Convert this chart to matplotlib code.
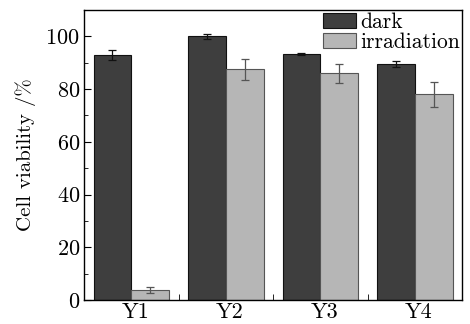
import numpy as np
import matplotlib
matplotlib.use("Agg")
import matplotlib.pyplot as plt
from matplotlib.ticker import MultipleLocator, FixedLocator

plt.rcParams['font.family'] = ['cmr10', 'DejaVu Serif']
plt.rcParams['axes.formatter.use_mathtext'] = True

# data
groups = ["Y1", "Y2", "Y3", "Y4"]
dark = [93.0, 100.0, 93.3, 89.5]
dark_err = [2.0, 0.8, 0.3, 1.0]
irradiation = [3.8, 87.6, 86.0, 78.0]
irr_err = [1.0, 4.0, 3.5, 4.8]

x = np.arange(len(groups))
w = 0.4

fig = plt.figure(figsize=(4.7, 3.24), dpi=100)
ax = fig.add_axes([0.179, 0.074, 0.804, 0.895])

ax.bar(x - w / 2, dark, w, color="#3e3e3e", edgecolor="#111111", linewidth=0.8,
       yerr=dark_err, error_kw=dict(ecolor="#111111", elinewidth=0.9, capsize=3, capthick=0.9),
       label="dark")
ax.bar(x + w / 2, irradiation, w, color="#b6b6b6", edgecolor="#555555", linewidth=0.8,
       yerr=irr_err, error_kw=dict(ecolor="#555555", elinewidth=0.9, capsize=3, capthick=0.9),
       label="irradiation")

ax.set_xlim(-0.5, 3.5)
ax.set_ylim(0, 110)
ax.set_xticks(x + 0.04)
ax.set_xticklabels(groups)
ax.xaxis.set_minor_locator(FixedLocator([0.5, 1.5, 2.5]))
ax.yaxis.set_major_locator(MultipleLocator(20))
ax.yaxis.set_minor_locator(MultipleLocator(10))
ax.tick_params(axis="both", which="both", direction="in", labelsize=16)
ax.tick_params(axis="x", which="major", length=0, pad=2)
ax.tick_params(axis="x", which="minor", length=4)
ax.tick_params(axis="y", which="major", length=5, pad=3)
ax.tick_params(axis="y", which="minor", length=3)
for s in ax.spines.values():
    s.set_linewidth(1.0)

ax.set_ylabel("Cell viability /%", fontsize=15, labelpad=7)

ax.legend(loc="upper right", frameon=False, fontsize=15.5, handlelength=1.5,
          handleheight=0.7, handletextpad=0.2, labelspacing=0.05,
          borderaxespad=0.05, borderpad=0.05)

fig.savefig("out.png", dpi=100)
